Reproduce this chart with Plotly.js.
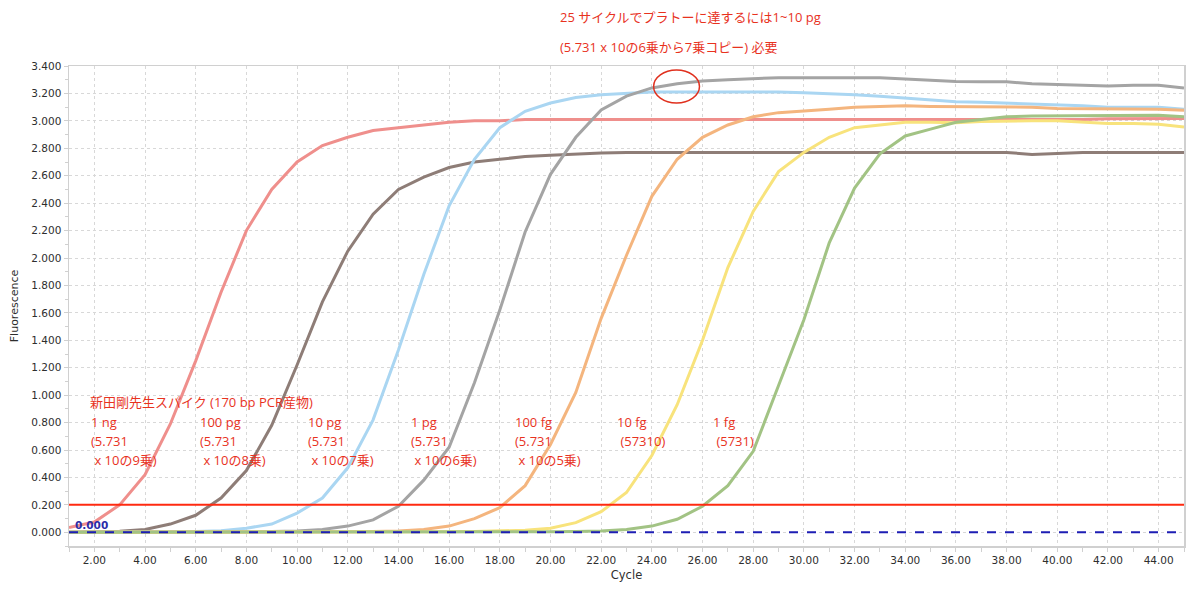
<!DOCTYPE html>
<html>
<head>
<meta charset="utf-8">
<script src="https://cdn.plot.ly/plotly-3.0.1.min.js"></script>
<style>
  html, body { margin: 0; padding: 0; background: #fff; }
  #chart { width: 1200px; height: 596px; }
</style>
</head>
<body>
<div id="chart"></div>
<script>
// cycles 1..45
const cycles = [1,2,3,4,5,6,7,8,9,10,11,12,13,14,15,16,17,18,19,20,21,22,23,24,25,26,27,28,29,30,31,32,33,34,35,36,37,38,39,40,41,42,43,44,45];

// fluorescence readings per dilution
const ng1 = [0.035,0.075,0.2,0.42,0.79,1.25,1.75,2.2,2.5,2.7,2.82,2.88,2.93,2.95,2.97,2.99,3.0,3.0,3.01,3.01,3.01,3.01,3.01,3.01,3.01,3.01,3.01,3.01,3.01,3.01,3.01,3.01,3.01,3.01,3.01,3.01,3.005,3.005,3.005,3.01,3.01,3.015,3.017,3.017,3.017];
const pg100 = [0.0,0.003,0.008,0.02,0.06,0.124,0.25,0.45,0.78,1.22,1.68,2.05,2.32,2.5,2.59,2.66,2.7,2.72,2.74,2.75,2.76,2.765,2.77,2.77,2.77,2.77,2.77,2.77,2.77,2.77,2.77,2.77,2.77,2.77,2.77,2.77,2.77,2.77,2.755,2.765,2.77,2.77,2.77,2.77,2.77];
const pg10 = [0,0,0,0,0.003,0.006,0.012,0.03,0.06,0.14,0.25,0.47,0.82,1.33,1.88,2.38,2.72,2.95,3.07,3.13,3.17,3.19,3.2,3.21,3.21,3.21,3.215,3.215,3.21,3.205,3.2,3.19,3.18,3.165,3.15,3.14,3.135,3.13,3.12,3.115,3.11,3.1,3.1,3.1,3.085];
const pg1 = [0,0,0,0,0,0,0.002,0.004,0.006,0.01,0.02,0.045,0.09,0.19,0.38,0.62,1.09,1.62,2.19,2.61,2.88,3.08,3.18,3.24,3.27,3.29,3.3,3.31,3.315,3.315,3.315,3.315,3.315,3.305,3.295,3.287,3.285,3.285,3.27,3.265,3.26,3.255,3.26,3.26,3.24];
const fg100 = [0,0,0,0,0,0,0,0,0,0,0.002,0.004,0.006,0.01,0.02,0.045,0.1,0.18,0.34,0.64,1.02,1.56,2.02,2.45,2.72,2.88,2.97,3.03,3.06,3.07,3.085,3.1,3.105,3.11,3.105,3.105,3.1,3.1,3.1,3.09,3.09,3.09,3.088,3.085,3.078];
const fg10 = [0,0,0,0,0,0,0,0,0,0,0,0,0,0,0.002,0.004,0.006,0.01,0.015,0.03,0.07,0.15,0.29,0.56,0.93,1.4,1.93,2.34,2.63,2.77,2.88,2.95,2.97,2.99,2.99,2.987,2.995,3.0,3.0,3.0,2.99,2.98,2.98,2.975,2.955];
const fg1 = [0,0,0,0,0,0,0,0,0,0,0,0,0,0,0,0,0,0,0.002,0.004,0.006,0.01,0.02,0.045,0.095,0.19,0.34,0.59,1.07,1.55,2.11,2.51,2.76,2.89,2.94,2.99,3.01,3.03,3.035,3.035,3.04,3.04,3.04,3.04,3.03];

const seriesNames = ['1 ng','100 pg','10 pg','1 pg','100 fg','10 fg','1 fg'];
const seriesValues = [ng1, pg100, pg10, pg1, fg100, fg10, fg1];
const seriesColors = ['#EF8F8C','#8E7D77','#AAD6F2','#A4A4A4','#F4B57E','#F8E37C','#A2C384'];

const threshold = 0.2;
const baseline = 0;

// annotation texts
const noteTop = ['25 サイクルでプラトーに達するには1~10 pg', '(5.731 x 10の6乗から7乗コピー) 必要'];
const noteSpike = '新田剛先生スパイク (170 bp PCR産物)';
const copyLines = [
  ['(5.731', '\u00a0x 10の9乗)'],
  ['(5.731', '\u00a0x 10の8乗)'],
  ['(5.731', '\u00a0x 10の7乗)'],
  ['(5.731', '\u00a0x 10の6乗)'],
  ['(5.731', '\u00a0x 10の5乗)'],
  ['\u00a0(57310)'],
  ['\u00a0(5731)']
];

// pixel helpers (plot area 69..1184 x 66..546)
const L = 69, R = 16, T = 66, B = 50, W = 1200, H = 596;
const pw = W - L - R, ph = H - T - B;
const px = p => (p - L) / pw;
const py = p => (H - B - p) / ph;

const red = '#E8321E';
const noteFont = { family: 'Open Sans, Noto Sans CJK JP', size: 13, color: red };
const colX = [89, 198, 306, 409, 513, 615, 711];
const rowY = [422, 441, 460];

const traces = seriesValues.map((v, i) => ({
  x: cycles, y: v, name: seriesNames[i], type: 'scatter', mode: 'lines',
  line: { color: seriesColors[i], width: 3 }, hoverinfo: 'skip'
}));

const annotations = [];
noteTop.forEach((t, i) => annotations.push({
  xref: 'paper', yref: 'paper', x: px(558), y: py(i === 0 ? 17 : 47),
  xanchor: 'left', yanchor: 'middle', showarrow: false, text: t, font: noteFont
}));
annotations.push({
  xref: 'paper', yref: 'paper', x: px(88), y: py(402),
  xanchor: 'left', yanchor: 'middle', showarrow: false, text: noteSpike, font: noteFont
});
seriesNames.forEach((n, i) => {
  const lines = [n].concat(copyLines[i]);
  lines.forEach((t, j) => annotations.push({
    xref: 'paper', yref: 'paper', x: px(colX[i]), y: py(rowY[j]),
    xanchor: 'left', yanchor: 'middle', showarrow: false, text: t, font: noteFont
  }));
});
annotations.push({
  xref: 'paper', yref: 'paper', x: px(73), y: py(525),
  xanchor: 'left', yanchor: 'middle', showarrow: false, text: '<b>0.000</b>',
  font: { family: 'DejaVu Sans', size: 10.5, color: '#2B2BA8' }
});

const layout = {
  width: W, height: H,
  margin: { l: L, r: R, t: T, b: B },
  paper_bgcolor: '#fff', plot_bgcolor: '#fff',
  showlegend: false,
  font: { family: 'DejaVu Sans', size: 10.5, color: '#2e2e2e' },
  xaxis: {
    range: [1, 45], tick0: 2, dtick: 2, tickformat: '.2f',
    showline: true, linecolor: '#d0d0d0', linewidth: 1.5, mirror: true,
    showgrid: true, gridcolor: '#d8d8d8', griddash: 'dot', zeroline: false,
    ticks: 'outside', ticklen: 4, tickcolor: '#d0d0d0',
    minor: { dtick: 1, ticks: 'outside', ticklen: 4, tickcolor: '#d0d0d0', showgrid: false },
    title: { text: 'Cycle', font: { size: 11.5, color: '#2e2e2e' }, standoff: 6 }
  },
  yaxis: {
    range: [-0.1, 3.4], tick0: 0, dtick: 0.2, tickformat: '.3f',
    showline: true, linecolor: '#d0d0d0', linewidth: 1.5, mirror: true,
    showgrid: true, gridcolor: '#d8d8d8', griddash: 'dot', zeroline: false,
    ticks: 'outside', ticklen: 4, tickcolor: '#d0d0d0',
    minor: { dtick: 0.1, ticks: 'outside', ticklen: 3, tickcolor: '#d0d0d0', showgrid: false },
    title: { text: 'Fluorescence', font: { size: 11, color: '#2e2e2e' }, standoff: 10 }
  },
  shapes: [
    { type: 'line', xref: 'paper', yref: 'y', x0: 0, x1: 1, y0: threshold, y1: threshold,
      line: { color: '#FF2A10', width: 2 } },
    { type: 'line', xref: 'paper', yref: 'y', x0: 0, x1: 1, y0: baseline, y1: baseline,
      line: { color: '#1E1EB4', width: 2, dash: 'dash' } },
    { type: 'circle', xref: 'x', yref: 'y', x0: 24.07, x1: 25.88, y0: 3.13, y1: 3.37,
      line: { color: '#E0301E', width: 1.5 } }
  ],
  annotations: annotations
};

Plotly.newPlot('chart', traces, layout, { displayModeBar: false, staticPlot: true });
</script>
</body>
</html>
